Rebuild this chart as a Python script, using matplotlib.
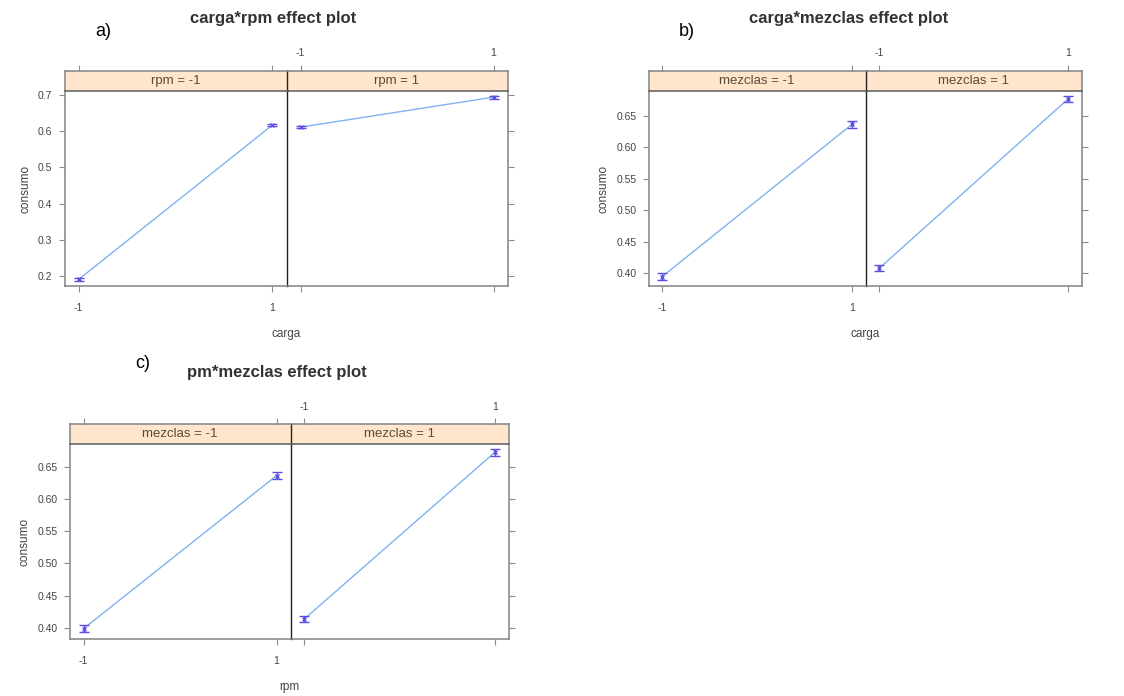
import matplotlib
matplotlib.use("Agg")
import matplotlib.pyplot as plt

# effect plot data: fitted consumo at levels -1 / 1, with small standard errors
levels = [-1, 1]

a_title = "carga*rpm effect plot"
a_strips = ["rpm = -1", "rpm = 1"]
a_fit = [[0.190, 0.617], [0.611, 0.694]]
a_err = [[0.004, 0.004], [0.003, 0.004]]
a_yticks = [0.2, 0.3, 0.4, 0.5, 0.6, 0.7]
a_ylabels = ["0.2", "0.3", "0.4", "0.5", "0.6", "0.7"]

b_title = "carga*mezclas effect plot"
b_strips = ["mezclas = -1", "mezclas = 1"]
b_fit = [[0.395, 0.636], [0.408, 0.676]]
b_err = [[0.005, 0.005], [0.005, 0.005]]

c_title = "pm*mezclas effect plot"
c_strips = ["mezclas = -1", "mezclas = 1"]
c_fit = [[0.399, 0.636], [0.414, 0.672]]
c_err = [[0.005, 0.005], [0.005, 0.005]]

bc_yticks = [0.40, 0.45, 0.50, 0.55, 0.60, 0.65]
bc_ylabels = ["0.40", "0.45", "0.50", "0.55", "0.60", "0.65"]
xlabels = ["-1", "1"]

W, H = 1124, 696
fig = plt.figure(figsize=(W / 100, H / 100), dpi=100)
plt.rcParams['font.family'] = ['Liberation Sans', 'DejaVu Sans']

frame_col = "#8c8c8c"
txt_col = "#444444"
strip_col = "#ffe5cc"
line_col = "#7fb2f0"
bar_col = "#5a4fe0"


def box(x0, y0, x1, y1):
    return [x0 / W, 1 - y1 / H, (x1 - x0) / W, (y1 - y0) / H]


def style_spines(ax, k):
    for s in ax.spines.values():
        s.set_color(frame_col)
        s.set_linewidth(1.2)
    if k == 0:
        ax.spines["right"].set_color("#222222")
        ax.spines["right"].set_linewidth(1)
    else:
        ax.spines["left"].set_visible(False)
        ax.set_facecolor("none")


def effect_plot(left, strip_top, strip_bot, right, bottom, mid, ylim, yticks, ylabels,
                fits, errs, strips, xname, title, tag, title_xy, tag_xy):
    xlim = (-1.14, 1.15)
    spans = [(left, mid), (mid, right)]
    for k in range(2):
        x0, x1 = spans[k]
        ax = fig.add_axes(box(x0, strip_bot, x1, bottom), zorder=2 - k)
        ax.plot(levels, fits[k], color=line_col, lw=1)
        ax.errorbar(levels, fits[k], yerr=errs[k], fmt="none", ecolor=bar_col,
                    elinewidth=1, capsize=3.5, capthick=1)
        ax.plot(levels, fits[k], "x", color=bar_col, ms=3, mew=1)
        ax.set_xlim(*xlim)
        ax.set_ylim(*ylim)
        ax.set_xticks(levels)
        ax.set_yticks(yticks)
        style_spines(ax, k)
        ax.spines["top"].set_visible(False)
        if k == 0:
            ax.set_xticklabels(xlabels)
            ax.set_yticklabels(ylabels)
            ax.tick_params(axis="y", left=True, right=False, labelleft=True)
            ax.set_ylabel("consumo", fontsize=8.5, color=txt_col, labelpad=5)
        else:
            ax.set_xticklabels([])
            ax.tick_params(axis="y", left=False, right=True, labelleft=False)
        ax.tick_params(direction="out", length=4, width=0.8, colors=frame_col,
                       labelcolor=txt_col, labelsize=7.5)
        ax.tick_params(axis="x", pad=8)
        ax.tick_params(axis="y", pad=5)

        sx = fig.add_axes(box(x0, strip_top, x1, strip_bot), zorder=2 - k)
        sx.set_xlim(*xlim)
        sx.set_ylim(0, 1)
        sx.set_yticks([])
        sx.xaxis.tick_top()
        sx.set_xticks(levels)
        sx.set_xticklabels(xlabels if k == 1 else [])
        sx.tick_params(direction="out", length=4, width=0.8, colors=frame_col,
                       labelcolor=txt_col, labelsize=7.5, pad=5)
        style_spines(sx, k)
        sx.spines["bottom"].set_color("#666666")
        sx.axvspan(xlim[0], xlim[1], color=strip_col, zorder=0)
        sx.text(0, 0.5, strips[k], ha="center", va="center", fontsize=9.5, color="#5a4a3a")

    fig.text(((left + right) / 2) / W, 1 - (bottom + 48) / H, xname, ha="center",
             va="center", fontsize=8.5, color=txt_col)
    fig.text(title_xy[0] / W, 1 - title_xy[1] / H, title, ha="center", va="center",
             fontsize=12, fontweight="bold", color="#333333")
    fig.text(tag_xy[0] / W, 1 - tag_xy[1] / H, tag, ha="left", va="center",
             fontsize=13, color="black")


effect_plot(65, 71, 91, 508, 286, 287, (0.172, 0.711), a_yticks, a_ylabels,
            a_fit, a_err, a_strips, "carga", a_title, "a)", (273, 18), (95, 31))
effect_plot(649, 71, 91, 1082, 286, 866, (0.380, 0.689), bc_yticks, bc_ylabels,
            b_fit, b_err, b_strips, "carga", b_title, "b)", (849, 18), (679, 31))
effect_plot(70, 424, 444, 509, 639, 291, (0.383, 0.685), bc_yticks, bc_ylabels,
            c_fit, c_err, c_strips, "rpm", c_title, "c)", (277, 373), (135, 363))

fig.savefig("out.png", dpi=100, facecolor="white")
